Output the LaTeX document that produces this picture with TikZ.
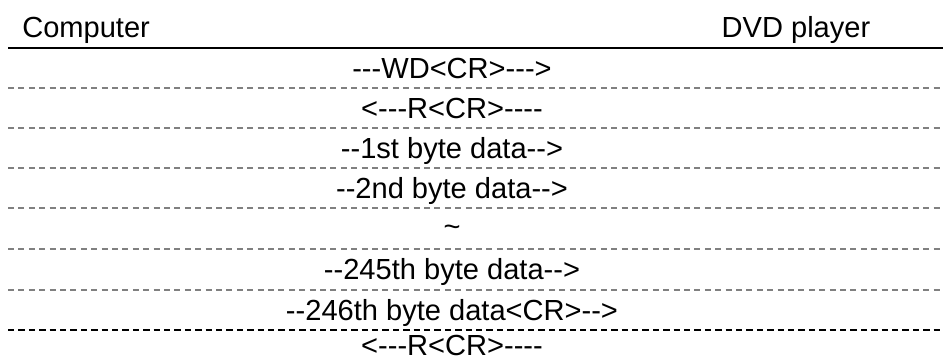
\documentclass[tikz,border=0pt]{standalone}
\usepackage{fontspec}
\newfontfamily\arialf{Liberation Sans}
\begin{document}
\begin{tikzpicture}[x=0.75pt,y=-0.75pt,
  lbl/.style={font=\arialf\fontsize{21.8}{26}\selectfont, inner sep=0pt, anchor=base},
  rowsep/.style={draw=black!50, line width=0.8pt, dash pattern=on 4.5pt off 3.3pt},
  boldsep/.style={draw=black, line width=1.5pt, dash pattern=on 4.8pt off 3pt},
  headsep/.style={draw=black, line width=1.5pt}]
\useasboundingbox (0,0) rectangle (943,358);
% header
\node[lbl, anchor=base west] (comp) at (22,37) {Computer};
\node[lbl] (dvd) at (796,37) {DVD player};
\draw[headsep] (8,48) -- (943,48);
% separators
\foreach \yy in {88,128,168,208,249,290}
  \draw[rowsep] (8,\yy) -- (943,\yy);
\draw[boldsep] (8,330) -- (943,330);
% messages
\node[lbl] (m1) at (452,78) {---WD<CR>--->};
\node[lbl] (m2) at (452,118) {<---R<CR>----};
\node[lbl] (m3) at (452,158) {--1st byte data-->};
\node[lbl] (m4) at (452,198) {--2nd byte data-->};
\node[lbl] (m5) at (452,236) {\textasciitilde};
\node[lbl] (m6) at (452,279) {--245th byte data-->};
\node[lbl] (m7) at (452,320) {--246th byte data<CR>-->};
\node[lbl, text depth=0pt] (m8) at (452,355) {<---R<CR>----};
\end{tikzpicture}
\end{document}
